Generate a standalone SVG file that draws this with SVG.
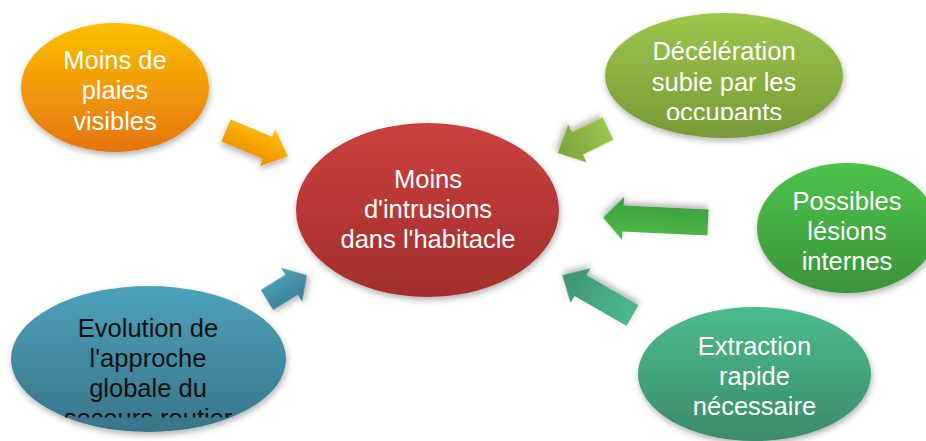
<svg xmlns="http://www.w3.org/2000/svg" width="926" height="441" viewBox="0 0 926 441">
  <defs>
    <style>
      .lbl { font-family: "Liberation Sans", Arial, sans-serif; font-size: 25.5px; text-anchor: middle; }
      .w { fill: #ffffff; }
      .k { fill: #111111; }
      .sh { filter: url(#shadow); }
    </style>
    <filter id="shadow" x="-20%" y="-20%" width="140%" height="150%">
      <feDropShadow dx="1" dy="3" stdDeviation="3" flood-color="#000000" flood-opacity="0.3"/>
    </filter>
    <linearGradient id="gOrange" x1="0" y1="0" x2="0" y2="1">
      <stop offset="0" stop-color="#FDC000"/>
      <stop offset="1" stop-color="#E6740E"/>
    </linearGradient>
    <linearGradient id="gRed" x1="0" y1="0" x2="0" y2="1">
      <stop offset="0" stop-color="#CB413E"/>
      <stop offset="1" stop-color="#A32E2D"/>
    </linearGradient>
    <linearGradient id="gLime" x1="0" y1="0" x2="0" y2="1">
      <stop offset="0" stop-color="#9DC64C"/>
      <stop offset="1" stop-color="#769A37"/>
    </linearGradient>
    <linearGradient id="gGreen" x1="0" y1="0" x2="0" y2="1">
      <stop offset="0" stop-color="#4DC34A"/>
      <stop offset="1" stop-color="#3A943A"/>
    </linearGradient>
    <linearGradient id="gTeal" x1="0" y1="0" x2="0" y2="1">
      <stop offset="0" stop-color="#4CBC8C"/>
      <stop offset="1" stop-color="#3B8C69"/>
    </linearGradient>
    <linearGradient id="gBlue" x1="0" y1="0" x2="0" y2="1">
      <stop offset="0" stop-color="#4CA2BA"/>
      <stop offset="1" stop-color="#397489"/>
    </linearGradient>
    <linearGradient id="aOrange" x1="0" y1="0" x2="0" y2="1">
      <stop offset="0" stop-color="#FFC200"/>
      <stop offset="1" stop-color="#EE8A02"/>
    </linearGradient>
    <linearGradient id="aLime" x1="0" y1="0" x2="1" y2="0">
      <stop offset="0" stop-color="#9CC54C"/>
      <stop offset="1" stop-color="#7BA23A"/>
    </linearGradient>
    <linearGradient id="aGreen" x1="0" y1="0" x2="0" y2="1">
      <stop offset="0" stop-color="#4DBA4A"/>
      <stop offset="1" stop-color="#3D9E3C"/>
    </linearGradient>
    <linearGradient id="aTeal" x1="0" y1="0" x2="1" y2="0">
      <stop offset="0" stop-color="#4DB98B"/>
      <stop offset="1" stop-color="#3E9473"/>
    </linearGradient>
    <linearGradient id="aBlue" x1="0" y1="0" x2="0" y2="1">
      <stop offset="0" stop-color="#4CA3BA"/>
      <stop offset="1" stop-color="#3A7E93"/>
    </linearGradient>
    <clipPath id="clipDec"><rect x="590" y="0" width="270" height="120"/></clipPath>
    <clipPath id="clipEvo"><rect x="0" y="280" width="300" height="137.5"/></clipPath>
  </defs>

  <g id="connectors">
    <polygon class="sh" fill="url(#aOrange)" transform="translate(226,130.5) rotate(22.7)" points="0,-12 45,-12 45,-20 67,0 45,20 45,12 0,12"/>
    <polygon class="sh" fill="url(#aLime)" transform="translate(608,128.5) rotate(154)" points="0,-12.5 34,-12.5 34,-21 56,0 34,21 34,12.5 0,12.5"/>
    <polygon class="sh" fill="url(#aGreen)" transform="translate(708,222.5) rotate(182.7)" points="0,-13 85,-13 85,-21.5 105,0 85,21.5 85,13 0,13"/>
    <polygon class="sh" fill="url(#aTeal)" transform="translate(632.5,315.5) rotate(209.9)" points="0,-12 60,-12 60,-20 81,0 60,20 60,12 0,12"/>
    <polygon class="sh" fill="url(#aBlue)" transform="translate(267,300) rotate(-31.8)" points="0,-11.7 29,-11.7 29,-20 47,0 29,20 29,11.7 0,11.7"/>
  </g>

  <g id="node-plaies">
    <ellipse class="sh" cx="115" cy="87.5" rx="94" ry="64.5" fill="url(#gOrange)"/>
    <text class="lbl w" x="115" y="68.5">Moins de</text>
    <text class="lbl w" x="115" y="99">plaies</text>
    <text class="lbl w" x="115" y="129.5">visibles</text>
  </g>

  <g id="node-centre">
    <ellipse class="sh" cx="427.5" cy="210" rx="131.5" ry="87" fill="url(#gRed)"/>
    <text class="lbl w" x="428" y="188">Moins</text>
    <text class="lbl w" x="428" y="218">d'intrusions</text>
    <text class="lbl w" x="428" y="248">dans l'habitacle</text>
  </g>

  <g id="node-deceleration">
    <ellipse class="sh" cx="724" cy="75.5" rx="119" ry="62.5" fill="url(#gLime)"/>
    <g clip-path="url(#clipDec)">
      <text class="lbl w" x="724" y="60">Décélération</text>
      <text class="lbl w" x="724" y="90.5">subie par les</text>
      <text class="lbl w" x="724" y="121">occupants</text>
    </g>
  </g>

  <g id="node-lesions">
    <ellipse class="sh" cx="847" cy="228" rx="90" ry="65" fill="url(#gGreen)"/>
    <text class="lbl w" x="847" y="210">Possibles</text>
    <text class="lbl w" x="847" y="240">lésions</text>
    <text class="lbl w" x="847" y="270">internes</text>
  </g>

  <g id="node-extraction">
    <ellipse class="sh" cx="754.5" cy="374" rx="116.5" ry="67" fill="url(#gTeal)"/>
    <text class="lbl w" x="754.5" y="355">Extraction</text>
    <text class="lbl w" x="754.5" y="385">rapide</text>
    <text class="lbl w" x="754.5" y="415">nécessaire</text>
  </g>

  <g id="node-evolution">
    <ellipse class="sh" cx="148.5" cy="359" rx="137.5" ry="73" fill="url(#gBlue)"/>
    <g clip-path="url(#clipEvo)">
      <text class="lbl k" x="148" y="337">Evolution de</text>
      <text class="lbl k" x="148" y="367">l'approche</text>
      <text class="lbl k" x="148" y="397">globale du</text>
      <text class="lbl k" x="148" y="427">secours routier</text>
    </g>
  </g>
</svg>
